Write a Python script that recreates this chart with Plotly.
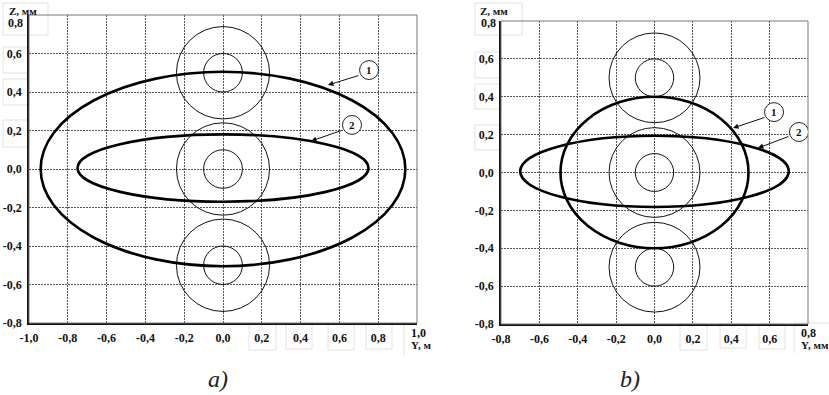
import plotly.graph_objects as go

# ---- data -------------------------------------------------------------
# panel a) : Y in m, Z in mm
a_y_ticks = [-1.0, -0.8, -0.6, -0.4, -0.2, 0.0, 0.2, 0.4, 0.6, 0.8, 1.0]
a_y_ticklabels = ["-1,0", "-0,8", "-0,6", "-0,4", "-0,2", "0,0", "0,2", "0,4", "0,6", "0,8", "1,0"]
# panel b) : Y in mm
b_y_ticks = [-0.8, -0.6, -0.4, -0.2, 0.0, 0.2, 0.4, 0.6, 0.8]
b_y_ticklabels = ["-0,8", "-0,6", "-0,4", "-0,2", "0,0", "0,2", "0,4", "0,6", "0,8"]
z_ticks = [-0.8, -0.6, -0.4, -0.2, 0.0, 0.2, 0.4, 0.6, 0.8]
z_ticklabels = ["-0,8", "-0,6", "-0,4", "-0,2", "0,0", "0,2", "0,4", "0,6", "0,8"]

# wire positions (centre Z) and the two concentric radii around each
wire_z = [0.5, 0.0, -0.5]
wire_inner_r = 0.10
wire_outer_r_a = 0.24
wire_outer_r_b = 0.237

# contour ellipses: (semi-axis along Y, semi-axis along Z, centre Z)
a_curves = {"1": (0.94, 0.505, 0.0), "2": (0.75, 0.175, 0.005)}
b_curves = {"1": (0.49, 0.40, 0.0), "2": (0.70, 0.188, 0.006)}

W, H = 829, 395
SERIF = "Liberation Serif, Times New Roman, serif"


def px(x, y):
    """pixel position -> paper coordinates"""
    return x / W, 1 - y / H


def bold(labels):
    return ["<b>%s</b>" % s for s in labels]


fig = go.Figure()
# empty traces so both subplots are created
fig.add_trace(go.Scatter(x=[None], y=[None], xaxis="x", yaxis="y", showlegend=False, hoverinfo="skip"))
fig.add_trace(go.Scatter(x=[None], y=[None], xaxis="x2", yaxis="y2", showlegend=False, hoverinfo="skip"))

shapes = []
annotations = []

# faint boxes around some labels
box_col = "#e2e2e2"
faint_boxes = [
    (3, 3, 48, 35), (3, 47, 29, 73), (3, 79, 29, 105), (3, 120, 29, 147),
    (249, 324, 276, 350), (286, 324, 312, 349), (328, 324, 354, 350), (366, 324, 392, 349),
    (475, 3, 522, 35), (475, 52, 501, 78), (475, 84, 501, 109), (475, 125, 501, 150),
    (680, 324, 707, 350), (720, 324, 746, 348), (759, 324, 785, 349),
]
for x0, y0, x1, y1 in faint_boxes:
    p0 = px(x0, y0)
    p1 = px(x1, y1)
    shapes.append(dict(type="rect", xref="paper", yref="paper", x0=p0[0], y0=p1[1], x1=p1[0], y1=p0[1],
                       line=dict(color=box_col, width=1), layer="below"))
for (x0, y0, x1, y1) in [(404, 324, 404, 355), (794, 324, 794, 353), (794, 323, 829, 323)]:
    p0 = px(x0, y0)
    p1 = px(x1, y1)
    shapes.append(dict(type="line", xref="paper", yref="paper", x0=p0[0], y0=p0[1], x1=p1[0], y1=p1[1],
                       line=dict(color=box_col, width=1), layer="below"))


def add_panel(xr, yr, outer_r, curves):
    # wires
    for zc in wire_z:
        for r in (wire_inner_r, outer_r):
            shapes.append(dict(type="circle", xref=xr, yref=yr, x0=-r, x1=r, y0=zc - r, y1=zc + r,
                               line=dict(color="#111", width=1)))
    # contours
    for key, (ay, az, zc) in curves.items():
        shapes.append(dict(type="circle", xref=xr, yref=yr, x0=-ay, x1=ay, y0=zc - az, y1=zc + az,
                           line=dict(color="#000", width=2.6)))
    # frame
    shapes.append(dict(type="rect", xref=xr + " domain", yref=yr + " domain", x0=0, x1=1, y0=0, y1=1,
                       line=dict(color="#777", width=1)))


add_panel("x", "y", wire_outer_r_a, a_curves)
add_panel("x2", "y2", wire_outer_r_b, b_curves)


def callout(xr, yr, label, centre, rx, ry, tail, tip):
    cx, cy = centre
    shapes.append(dict(type="circle", xref=xr, yref=yr, x0=cx - rx, x1=cx + rx, y0=cy - ry, y1=cy + ry,
                       line=dict(color="#222", width=1), fillcolor="white"))
    annotations.append(dict(xref=xr, yref=yr, x=cx, y=cy, text="<b>%s</b>" % label, showarrow=False,
                            font=dict(family=SERIF, size=11, color="#111")))
    annotations.append(dict(xref=xr, yref=yr, axref=xr, ayref=yr, x=tip[0], y=tip[1], ax=tail[0], ay=tail[1],
                            text="", showarrow=True, arrowhead=2, arrowsize=1.1, arrowwidth=1,
                            arrowcolor="#111", standoff=0, startstandoff=0))


callout("x", "y", "1", (0.753, 0.514), 0.049, 0.049, (0.706, 0.488), (0.541, 0.436))
callout("x", "y", "2", (0.665, 0.229), 0.049, 0.049, (0.619, 0.203), (0.454, 0.145))
callout("x2", "y2", "1", (0.623, 0.319), 0.0495, 0.050, (0.581, 0.293), (0.409, 0.235))
callout("x2", "y2", "2", (0.753, 0.214), 0.0495, 0.050, (0.706, 0.193), (0.539, 0.129))

# the top Z tick and the last Y tick share a corner with the axis names,
# so those two labels are written together with the axis names
label_font = dict(family=SERIF, size=12, color="#111")
name_font = dict(family=SERIF, size=11, color="#111")
corner_labels = [
    ("<b>Z, мм</b>", (7, 11), "left", name_font), ("<b>%s</b>" % z_ticklabels[-1], (25, 23), "right", label_font),
    ("<b>Z, мм</b>", (478, 11), "left", name_font), ("<b>%s</b>" % z_ticklabels[-1], (498, 23), "right", label_font),
    ("<b>%s</b>" % a_y_ticklabels[-1], (409, 333), "left", label_font), ("<b>Y, м</b>", (409, 345), "left", name_font),
    ("<b>%s</b>" % b_y_ticklabels[-1], (799, 333), "left", label_font), ("<b>Y, мм</b>", (799, 345), "left", name_font),
]
for text, (x, y), anchor, font in corner_labels:
    pxp = px(x, y)
    annotations.append(dict(xref="paper", yref="paper", x=pxp[0], y=pxp[1], text=text, showarrow=False,
                            xanchor=anchor, yanchor="middle", font=font))
for text, (x, y) in [("<i>a)</i>", (218, 379)), ("<i>b)</i>", (630, 379))]:
    pxp = px(x, y)
    annotations.append(dict(xref="paper", yref="paper", x=pxp[0], y=pxp[1], text=text, showarrow=False,
                            xanchor="center", yanchor="middle",
                            font=dict(family=SERIF, size=24, color="#222")))

tick_font = dict(family=SERIF, size=12, color="#111")
grid = dict(showgrid=True, gridcolor="#555", gridwidth=1, griddash="2px,1px", zeroline=False,
            ticks="", showline=True, linecolor="#111", linewidth=1.6, tickfont=tick_font,
            automargin=False)

d = px(29, 323)
e = px(417, 15)
f = px(501, 324)
g = px(808, 21)

fig.update_layout(
    width=W, height=H, margin=dict(l=0, r=0, t=0, b=0, pad=0, autoexpand=False),
    paper_bgcolor="white", plot_bgcolor="white", showlegend=False,
    xaxis=dict(domain=[d[0], e[0]], range=[-1.0, 1.0], anchor="y", tickvals=a_y_ticks,
               ticktext=bold(a_y_ticklabels[:-1]) + [""], ticklabelstandoff=3, **grid),
    yaxis=dict(domain=[d[1], e[1]], range=[-0.8, 0.8], anchor="x", tickvals=z_ticks,
               ticktext=bold(z_ticklabels[:-1]) + [""], ticklabelstandoff=3, **grid),
    xaxis2=dict(domain=[f[0], g[0]], range=[-0.8, 0.8], anchor="y2", tickvals=b_y_ticks,
                ticktext=bold(b_y_ticklabels[:-1]) + [""], ticklabelstandoff=3, **grid),
    yaxis2=dict(domain=[f[1], g[1]], range=[-0.8, 0.8], anchor="x2", tickvals=z_ticks,
                ticktext=bold(z_ticklabels[:-1]) + [""], ticklabelstandoff=3, **grid),
    shapes=shapes, annotations=annotations,
)

fig.write_html("out.html")
